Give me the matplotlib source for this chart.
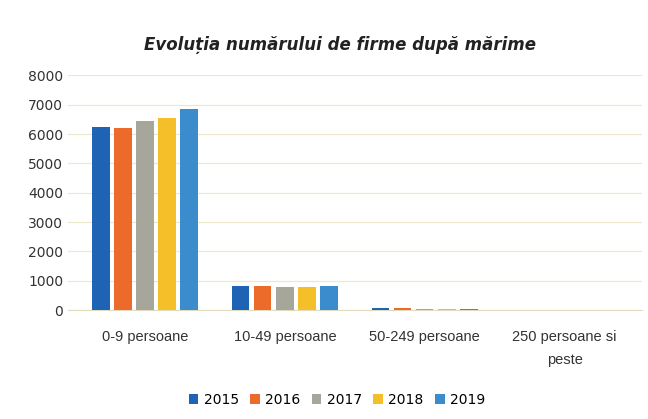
import matplotlib.pyplot as plt
import numpy as np

categories = ['0-9 persoane', '10-49 persoane', '50-249 persoane', '250 persoane si\npeste']
years = ['2015', '2016', '2017', '2018', '2019']
v2015 = [6230, 820, 70, 12]
v2016 = [6220, 810, 70, 12]
v2017 = [6430, 800, 50, 10]
v2018 = [6560, 790, 40, 10]
v2019 = [6840, 830, 50, 12]
series = [v2015, v2016, v2017, v2018, v2019]
colors = ['#1f64b4', '#ec6a2a', '#a6a69a', '#f5bf2a', '#3a8ccc']

fig = plt.figure(figsize=(6.48, 4.19), dpi=100)
ax = fig.add_axes([0.105, 0.26, 0.885, 0.56])

x = np.arange(len(categories))
w = 0.125
for i, (vals, c) in enumerate(zip(series, colors)):
    ax.bar(x + (i - 2) * 0.158, vals, width=w, color=c, label=years[i], zorder=3)

ax.set_ylim(0, 8000)
ax.set_yticks(range(0, 8001, 1000))
ax.set_xlim(-0.55, 3.55)
ax.set_xticks(x)
ax.set_xticklabels(categories, fontsize=10.5, color='#333333', family='Liberation Sans',
                   linespacing=1.9)
ax.tick_params(axis='y', labelsize=10, colors='#333333', length=0)
ax.tick_params(axis='x', length=0, pad=14)
ax.grid(axis='y', color='#ece8cc', linewidth=0.9, zorder=0)
for s in ['top', 'right', 'left']:
    ax.spines[s].set_visible(False)
ax.spines['bottom'].set_color('#e0dcc0')

fig.suptitle('Evoluția numărului de firme după mărime', x=0.525, y=0.915,
             fontsize=12, fontweight='bold', fontstyle='italic', color='#222222')
fig.legend(loc='lower center', ncol=5, frameon=False, fontsize=10,
           bbox_to_anchor=(0.52, 0.0), handlelength=0.7, handleheight=0.7,
           columnspacing=0.8, handletextpad=0.4)
fig.savefig('out.png', dpi=100)
